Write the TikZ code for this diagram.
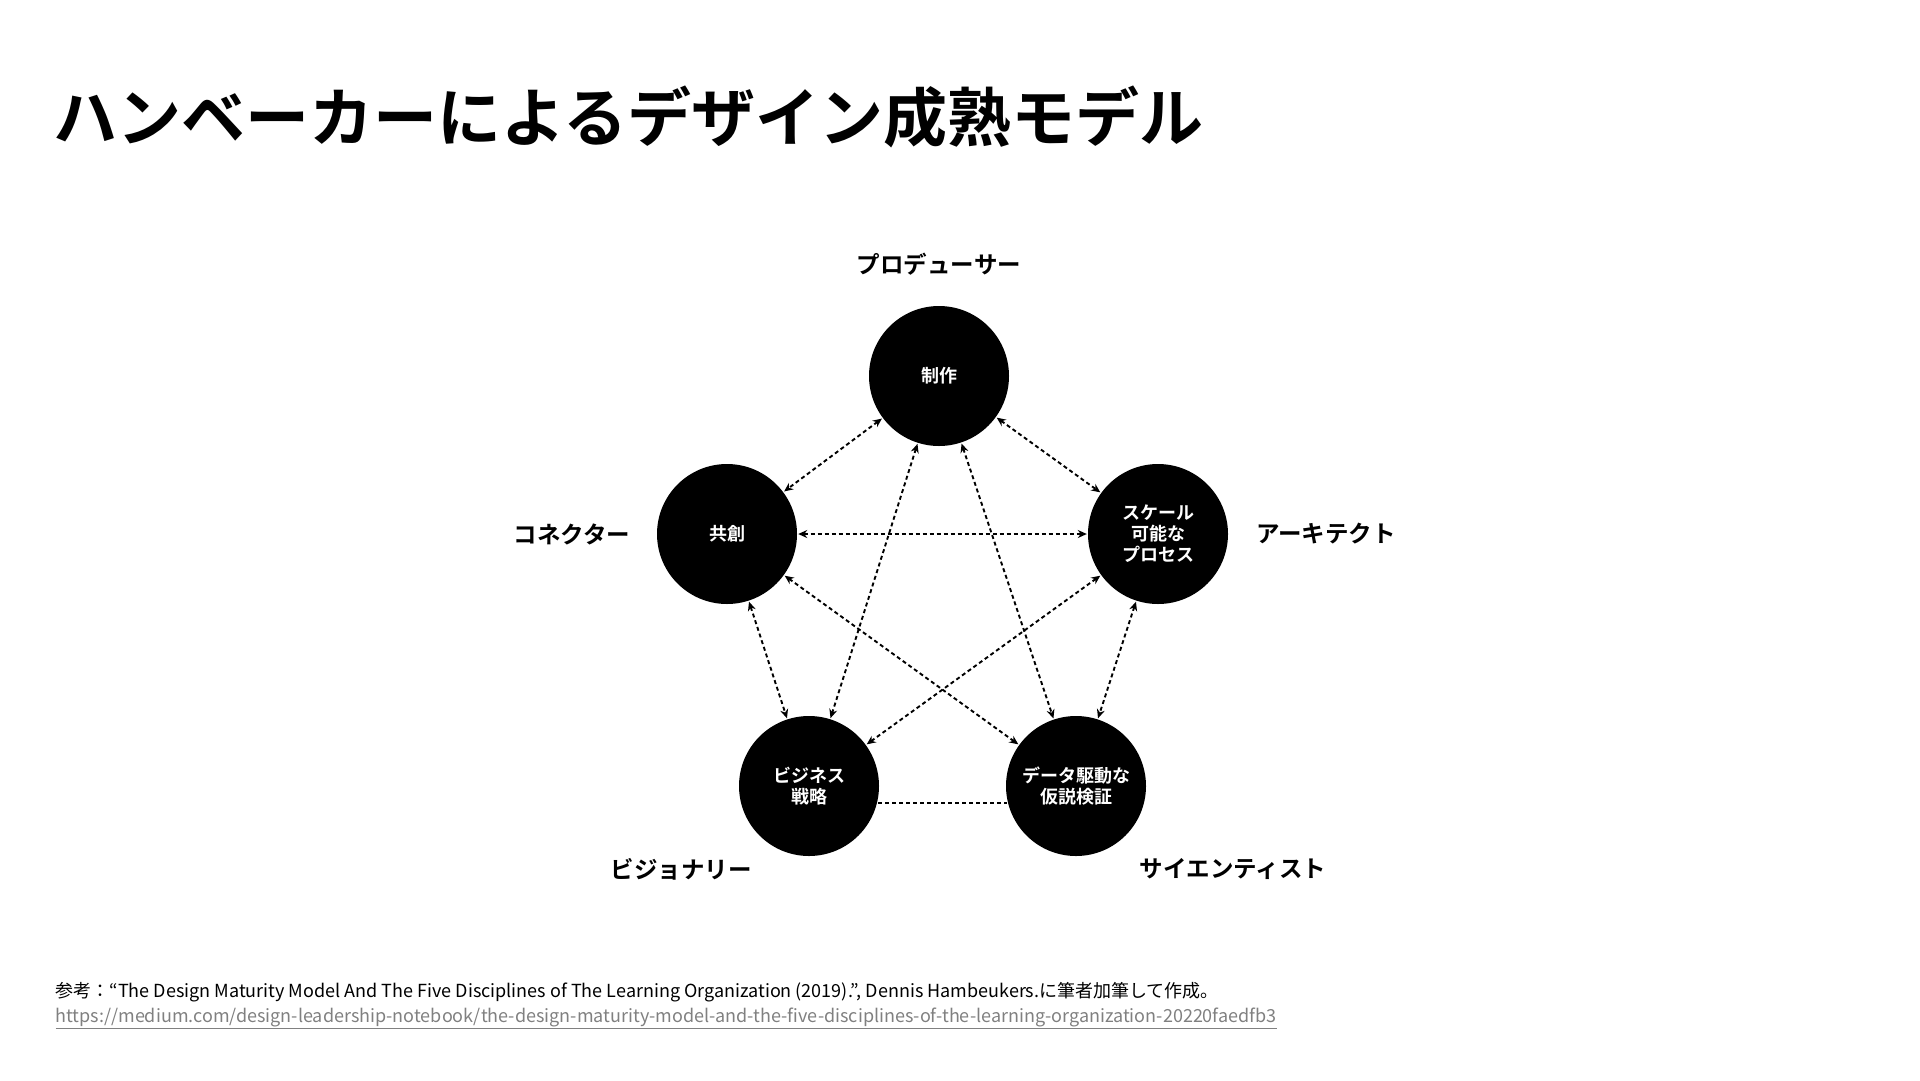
\documentclass[tikz,border=0pt]{standalone}
\usepackage{fontspec}
\setmainfont{Noto Sans CJK JP}
\newfontfamily\jpb{Noto Sans CJK JP Bold}
\usetikzlibrary{arrows.meta}
\begin{document}
\begin{tikzpicture}[x=1pt,y=-1pt,
  circ/.style={circle,fill=black,minimum size=140pt,inner sep=0pt,text=white,align=center,font=\jpb\fontsize{18}{21}\selectfont},
  role/.style={font=\jpb\fontsize{23.5}{26}\selectfont},
  link/.style={line width=1.9pt,dash pattern=on 4pt off 3pt,{Stealth[length=9pt,width=8pt]}-{Stealth[length=9pt,width=8pt]},shorten <=1pt,shorten >=1pt},
  plain/.style={line width=1.9pt,dash pattern=on 4pt off 3pt}]
\useasboundingbox (0,0) rectangle (1920,1080);
\node[anchor=west,font=\jpb\fontsize{64}{70}\selectfont] (title) at (50,117) {ハンベーカーによるデザイン成熟モデル};
\node[circ] (t) at (939,376) {制作};
\node[circ] (l) at (727,534) {共創};
\node[circ] (r) at (1158,534) {スケール\\可能な\\プロセス};
\node[circ] (bl) at (809,786) {ビジネス\\戦略};
\node[circ] (br) at (1076,786) {データ駆動な\\仮説検証};
\node[role] (lt) at (939,264) {プロデューサー};
\node[role] (ll) at (572,534) {コネクター};
\node[role] (lr) at (1326,534) {アーキテクト};
\node[role] (lbl) at (681,869) {ビジョナリー};
\node[role] (lbr) at (1233,869) {サイエンティスト};
\draw[link] (t) -- (l);
\draw[link] (t) -- (r);
\draw[link] (l) -- (r);
\draw[link] (l) -- (bl);
\draw[link] (r) -- (br);
\draw[link] (t) -- (bl);
\draw[link] (t) -- (br);
\draw[link] (l) -- (br);
\draw[link] (r) -- (bl);
\coordinate (p1) at (878,803);
\coordinate (p2) at (1007,803);
\draw[plain] (p1) -- (p2);
\node[anchor=west,font=\fontsize{18}{21}\selectfont] (ref) at (52,992) {参考：“The Design Maturity Model And The Five Disciplines of The Learning Organization (2019).”, Dennis Hambeukers.に筆者加筆して作成。};
\node[anchor=west,text=gray,font=\fontsize{18}{21}\selectfont] (url) at (52,1018) {\underline{https://medium.com/design-leadership-notebook/the-design-maturity-model-and-the-five-disciplines-of-the-learning-organization-20220faedfb3}};
\end{tikzpicture}
\end{document}
